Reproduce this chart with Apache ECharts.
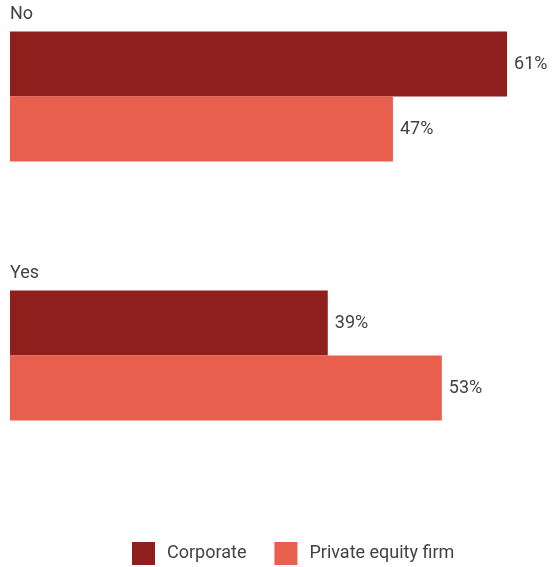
<!DOCTYPE html>
<html>
<head>
<meta charset="utf-8">
<script src="https://cdn.jsdelivr.net/npm/echarts@6/dist/echarts.min.js"></script>
<style>html,body{margin:0;padding:0;background:#fff;}#c{width:553px;height:567px;}</style>
</head>
<body>
<div id="c"></div>
<script>
const categories = ['No', 'Yes'];
const seriesNames = ['Corporate', 'Private equity firm'];
const corporate = [61, 39];
const privateEquity = [47, 53];

const chart = echarts.init(document.getElementById('c'), null, {renderer: 'canvas'});
const textColor = '#424242';
const font = 'Roboto, "Liberation Sans", sans-serif';
const fs = 18;
const labelOpt = {
  show: true, position: 'right', distance: 7,
  formatter: p => p.value + '%',
  color: textColor, fontSize: fs, fontFamily: font
};
chart.setOption({
  animation: false,
  grid: {left: 10, top: 96.5, height: 259, width: 529.6, containLabel: false},
  xAxis: {type: 'value', min: 0, max: 65, show: false},
  yAxis: {
    type: 'category', data: categories, inverse: true, boundaryGap: false,
    axisLine: {show: false}, axisTick: {show: false}, splitLine: {show: false},
    axisLabel: {
      inside: true, margin: 0, align: 'left', verticalAlign: 'bottom',
      padding: [0, 0, 72, 0], lineHeight: 20,
      color: textColor, fontSize: fs, fontFamily: font
    }
  },
  legend: {
    top: 542, left: 132, padding: 0, itemWidth: 23, itemHeight: 23, itemGap: 28,
    icon: 'rect',
    textStyle: {color: textColor, fontSize: fs, fontFamily: font, padding: [0, 0, 0, 7]},
    data: seriesNames
  },
  series: [
    {name: seriesNames[0], type: 'bar', data: corporate, barWidth: 65, barGap: '0%',
     clip: false, itemStyle: {color: '#8E1F1D'}, label: labelOpt},
    {name: seriesNames[1], type: 'bar', data: privateEquity, barWidth: 65, barGap: '0%',
     clip: false, itemStyle: {color: '#E95F4E'}, label: labelOpt}
  ]
});
</script>
</body>
</html>
